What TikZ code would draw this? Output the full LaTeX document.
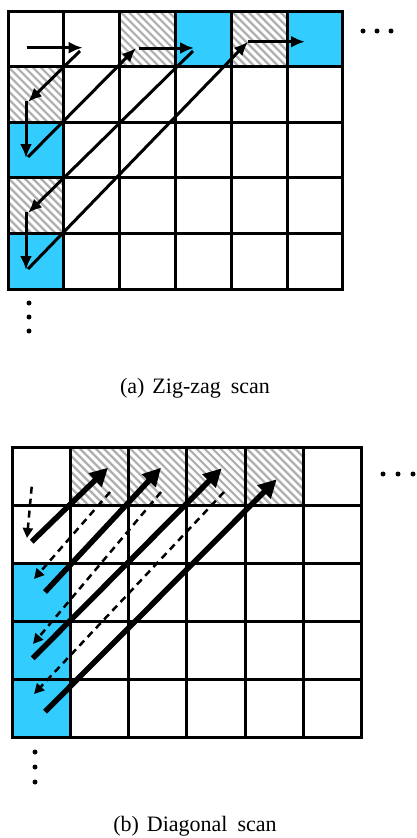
\documentclass[tikz,border=0pt]{standalone}
\usepackage{fontspec}
\setmainfont{Liberation Serif}
\usetikzlibrary{arrows.meta}
\definecolor{cellcyan}{RGB}{51,204,255}
\definecolor{hatchgray}{RGB}{175,175,175}
\tikzset{
  cellA/.style={draw=black, line width=3pt, minimum width=55.8pt, minimum height=55.6pt, inner sep=0pt, outer sep=0pt},
  cellB/.style={cellA, minimum width=58.3pt, minimum height=58pt},
  hatch/.style={path picture={\foreach \k in {-72,-64,...,64}{\draw[draw=#1, line width=2.2pt] ([xshift=\k pt]path picture bounding box.north west) -- ++(90pt,-90pt);}}},
  zz/.style={line width=3pt, -{Latex[length=14pt,width=12pt]}},
  solidarr/.style={line width=5.5pt, -{Triangle[length=18pt,width=18pt]}},
  dasharr/.style={line width=2.5pt, dash pattern=on 7pt off 5pt, -{Triangle[length=10pt,width=10pt]}},
  dotmark/.style={fill=black},
  caption/.style={font=\fontsize{22}{26}\selectfont, anchor=base, inner sep=0pt}
}
\begin{document}
\begin{tikzpicture}[x=1pt, y=-1pt]
\useasboundingbox (0,0) rectangle (417,838);
% ---------- (a) zig-zag ----------
\foreach \r in {0,...,4}{
  \foreach \c in {0,...,5}{
    \node[cellA, fill=white] (a\r\c) at ({8+55.8*\c+27.9},{11+55.6*\r+27.8}) {};
  }
}
\foreach \r/\c/\f/\h in {0/2/white/hatchgray, 0/3/cellcyan/none, 0/4/white/hatchgray, 0/5/cellcyan/none,
                         1/0/white/hatchgray, 2/0/cellcyan/none, 3/0/white/hatchgray, 4/0/cellcyan/none}{
  \node[cellA, fill=\f, hatch=\h] (a\r\c) at ({8+55.8*\c+27.9},{11+55.6*\r+27.8}) {};
}
\coordinate (z0) at (26.7,47.7);
\coordinate (z1) at (82.7,47.7);
\coordinate (z2) at (80,51);
\coordinate (z3) at (28,102);
\coordinate (z4) at (26,101);
\coordinate (z5) at (26,158);
\coordinate (z6) at (28,157);
\coordinate (z7) at (136,48);
\coordinate (z8) at (139,48);
\coordinate (z9) at (194,48);
\coordinate (z10) at (193,51);
\coordinate (z11) at (28,213);
\coordinate (z12) at (26,212);
\coordinate (z13) at (26,270);
\coordinate (z14) at (28,269);
\coordinate (z15) at (248,41.7);
\coordinate (z16) at (305,41.7);
\draw[zz] (z0) -- (z1);
\draw[zz] (z2) -- (z3);
\draw[zz] (z4) -- (z5);
\draw[zz] (z6) -- (z7);
\draw[zz] (z8) -- (z9);
\draw[zz] (z10) -- (z11);
\draw[zz] (z12) -- (z13);
\draw[zz] (z14) -- (z15);
\draw[zz] (z15) -- (z16);
\foreach \x in {363,377,391} \fill[dotmark] (\x,31) circle (2.5pt);
\foreach \y in {303,317,331} \fill[dotmark] (29,\y) circle (2.5pt);
\node[caption] (capa) at (195,393) {(a)\hspace{8pt}Zig-zag\hspace{10pt}scan};
% ---------- (b) diagonal ----------
\foreach \r in {0,...,4}{
  \foreach \c in {0,...,5}{
    \node[cellB, fill=white] (b\r\c) at ({12+58.3*\c+29.15},{447+58*\r+29}) {};
  }
}
\foreach \r/\c/\f/\h in {0/1/white/hatchgray, 0/2/white/hatchgray, 0/3/white/hatchgray, 0/4/white/hatchgray,
                         2/0/cellcyan/none, 3/0/cellcyan/none, 4/0/cellcyan/none}{
  \node[cellB, fill=\f, hatch=\h] (b\r\c) at ({12+58.3*\c+29.15},{447+58*\r+29}) {};
}
\coordinate (t1s) at (31.7,541.7);
\coordinate (t1e) at (108,467.7);
\coordinate (t2s) at (45,592);
\coordinate (t2e) at (161,467.7);
\coordinate (t3s) at (32.7,658.3);
\coordinate (t3e) at (221.7,468.3);
\coordinate (t4s) at (45,711.7);
\coordinate (t4e) at (276.7,479.3);
\coordinate (d0s) at (31.7,486.7);
\coordinate (d0e) at (27,538);
\coordinate (d1s) at (110,492);
\coordinate (d1e) at (34,579);
\coordinate (d2s) at (161,492);
\coordinate (d2e) at (33,644);
\coordinate (d3s) at (224,492);
\coordinate (d3e) at (34,694);
\draw[solidarr] (t1s) -- (t1e);
\draw[solidarr] (t2s) -- (t2e);
\draw[solidarr] (t3s) -- (t3e);
\draw[solidarr] (t4s) -- (t4e);
\draw[dasharr] (d0s) -- (d0e);
\draw[dasharr] (d1s) -- (d1e);
\draw[dasharr] (d2s) -- (d2e);
\draw[dasharr] (d3s) -- (d3e);
\foreach \x in {383,398,413} \fill[dotmark] (\x,474) circle (2.5pt);
\foreach \y in {752,767,782} \fill[dotmark] (35,\y) circle (2.5pt);
\node[caption] (capb) at (195,831) {(b)\hspace{8pt}Diagonal\hspace{10pt}scan};
\end{tikzpicture}
\end{document}
